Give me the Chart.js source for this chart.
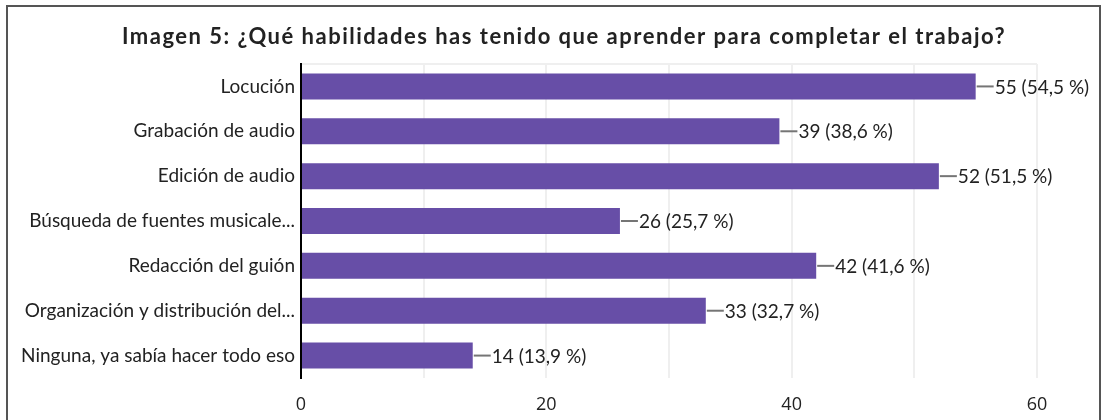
<!DOCTYPE html>
<html>
<head>
<meta charset="utf-8">
<script src="https://cdn.jsdelivr.net/npm/chart.js@4/dist/chart.umd.min.js"></script>
<style>
  html, body { margin: 0; padding: 0; background: #fff; }
  #wrap { position: relative; width: 1106px; height: 420px; overflow: hidden; }
  #frame { position: absolute; left: 6px; top: 5px; width: 1095px; height: 440px; border: 2px solid #555; border-bottom: none; box-sizing: border-box; pointer-events: none; }
  canvas { position: absolute; left: 0; top: 0; }
</style>
</head>
<body>
<div id="wrap">
  <canvas id="c" width="1106" height="420"></canvas>
  <div id="frame"></div>
</div>
<script>
const titleText = 'Imagen 5: ¿Qué habilidades has tenido que aprender para completar el trabajo?';
const categories = [
  'Locución',
  'Grabación de audio',
  'Edición de audio',
  'Búsqueda de fuentes musicale...',
  'Redacción del guión',
  'Organización y distribución del...',
  'Ninguna, ya sabía hacer todo eso'
];
const counts = [55, 39, 52, 26, 42, 33, 14];
const percents = ['54,5', '38,6', '51,5', '25,7', '41,6', '32,7', '13,9'];
const xTickLabels = [0, 20, 40, 60];

const titlePlugin = {
  id: 'customTitle',
  afterDraw(chart) {
    const ctx = chart.ctx;
    ctx.save();
    ctx.font = 'bold 22px Lato';
    ctx.fillStyle = '#222';
    ctx.textAlign = 'center';
    ctx.textBaseline = 'middle';
    if ('letterSpacing' in ctx) ctx.letterSpacing = '1.5px';
    ctx.fillText(titleText, 564, 37);
    ctx.restore();
  }
};

const labelPlugin = {
  id: 'valueLabels',
  afterDatasetsDraw(chart) {
    const ctx = chart.ctx;
    const meta = chart.getDatasetMeta(0);
    ctx.save();
    meta.data.forEach((bar, i) => {
      const x = bar.x, y = bar.y;
      ctx.strokeStyle = '#757575';
      ctx.lineWidth = 2;
      ctx.beginPath();
      ctx.moveTo(x + 1, y);
      ctx.lineTo(x + 18, y);
      ctx.stroke();
      ctx.fillStyle = '#222';
      ctx.font = '19px Lato';
      ctx.textAlign = 'left';
      ctx.textBaseline = 'middle';
      ctx.fillText(counts[i] + ' (' + percents[i] + ' %)', x + 19, y + 1);
    });
    ctx.restore();
  }
};

new Chart(document.getElementById('c'), {
  type: 'bar',
  data: {
    labels: categories,
    datasets: [{
      data: counts,
      backgroundColor: '#674ea7',
      borderWidth: 0,
      barPercentage: 0.58,
      categoryPercentage: 1
    }]
  },
  options: {
    indexAxis: 'y',
    responsive: false,
    animation: false,
    layout: { padding: { left: 0, right: 69, top: 64, bottom: 6 } },
    plugins: {
      legend: { display: false },
      tooltip: { enabled: false },
      title: { display: false }
    },
    scales: {
      x: {
        min: 0, max: 60,
        afterFit: (s) => { s.height = 36; },
        ticks: {
          stepSize: 10,
          autoSkip: false,
          maxRotation: 0,
          padding: 16,
          color: '#222',
          font: { family: 'Open Sans', size: 18 },
          callback: (v) => xTickLabels.includes(v) ? String(v) : ''
        },
        grid: {
          drawTicks: false,
          lineWidth: 2,
          color: (c) => (c.tick && c.tick.value === 0) ? 'rgba(0,0,0,0)' : '#efefef'
        },
        border: { display: false }
      },
      y: {
        afterFit: (s) => { s.width = 301; },
        ticks: {
          padding: 6,
          color: '#222',
          font: { family: 'Lato', size: 19 },
          autoSkip: false
        },
        grid: {
          drawTicks: false,
          lineWidth: 2,
          color: (c) => (c.index === 0 || c.index === categories.length) ? '#efefef' : 'rgba(0,0,0,0)'
        },
        border: { display: true, color: '#000', width: 2 }
      }
    }
  },
  plugins: [labelPlugin, titlePlugin]
});
</script>
</body>
</html>
